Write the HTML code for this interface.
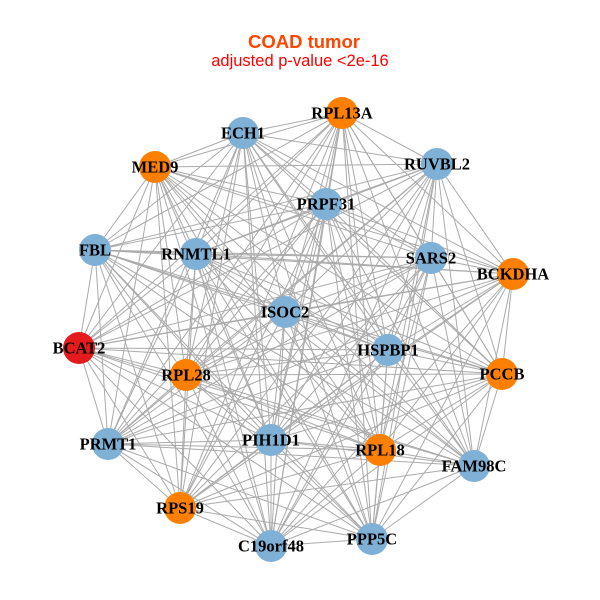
<!DOCTYPE html>
<html><head><meta charset="utf-8"><style>
html,body{margin:0;padding:0;background:#fff;width:600px;height:600px;overflow:hidden}
svg{display:block}
.lab{font-family:"Liberation Serif",serif;font-weight:bold;font-size:16.5px;fill:#000;text-anchor:middle;dominant-baseline:central}
</style></head><body>
<svg id="s" width="600" height="600" xmlns="http://www.w3.org/2000/svg">
<text x="304" y="48" text-anchor="middle" font-family="Liberation Sans,sans-serif" font-weight="bold" font-size="18.5" fill="#ff4500">COAD tumor</text>
<text x="300" y="66" text-anchor="middle" font-family="Liberation Sans,sans-serif" font-size="16.5" fill="#ff0000">adjusted p-value &lt;2e-16</text>
<g id="e" stroke="#aaaaaa" stroke-width="1"></g>
<g id="n"></g>
</svg>
<script>
var N=[["RPL13A",342,113,"o"],["ECH1",243,133,"b"],["MED9",155,167,"o"],["RUVBL2",437,164,"b"],["PRPF31",326,204,"b"],["FBL",95,250,"b"],["RNMTL1",196,254,"b"],["SARS2",431,258,"b"],["BCKDHA",513,274,"o"],["ISOC2",285,312,"b"],["BCAT2",79,348,"r"],["HSPBP1",388,350,"b"],["RPL28",186,375,"o"],["PCCB",502,374,"o"],["PRMT1",108,444,"b"],["PIH1D1",271,440,"b"],["RPL18",380,450,"o"],["FAM98C",474,466,"b"],["RPS19",180,508,"o"],["PPP5C",372,539,"b"],["C19orf48",271,546,"b"]];
var C={o:"#ff8000",b:"#7fb0d5",r:"#e41a1c"};
var ns="http://www.w3.org/2000/svg",e=document.getElementById("e"),g=document.getElementById("n");
for(var i=0;i<N.length;i++)for(var j=i+1;j<N.length;j++){var l=document.createElementNS(ns,"line");l.setAttribute("x1",N[i][1]);l.setAttribute("y1",N[i][2]);l.setAttribute("x2",N[j][1]);l.setAttribute("y2",N[j][2]);e.appendChild(l);}
N.forEach(function(d){var c=document.createElementNS(ns,"circle");c.setAttribute("cx",d[1]);c.setAttribute("cy",d[2]);c.setAttribute("r",16);c.setAttribute("fill",C[d[3]]);g.appendChild(c);});
N.forEach(function(d){var t=document.createElementNS(ns,"text");t.setAttribute("x",d[1]);t.setAttribute("y",d[2]);t.setAttribute("class","lab");t.textContent=d[0];g.appendChild(t);});
</script>
</body></html>
